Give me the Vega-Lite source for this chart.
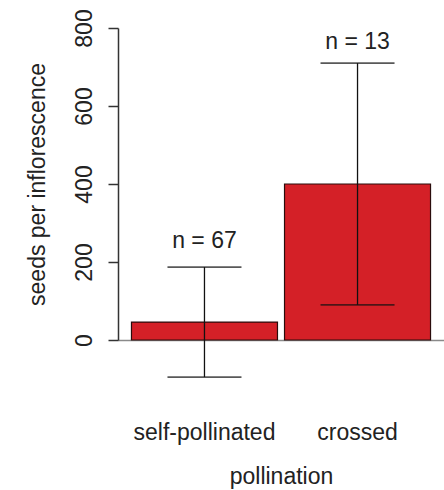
{
  "$schema": "https://vega.github.io/schema/vega-lite/v6.json",
  "autosize": "none",
  "padding": {"left": 118, "top": 28, "right": 0, "bottom": 150},
  "width": 326,
  "height": 312,
  "background": "white",
  "config": {
    "font": "Liberation Sans",
    "view": {"stroke": null}
  },
  "data": {
    "values": [
      {"pollination": "self-pollinated", "mean": 46, "lo": -95, "hi": 187, "label": "n = 67", "label_y": 236},
      {"pollination": "crossed", "mean": 400, "lo": 90, "hi": 710, "label": "n = 13", "label_y": 746}
    ]
  },
  "encoding": {
    "x": {
      "field": "pollination",
      "type": "nominal",
      "sort": null,
      "scale": {"type": "band", "paddingInner": 0.046, "paddingOuter": 0.088},
      "axis": {
        "title": "pollination",
        "labelAngle": 0,
        "labelFontSize": 23,
        "labelColor": "#222",
        "labelPadding": 81,
        "ticks": false,
        "domain": true,
        "domainColor": "#8a8a8a",
        "domainWidth": 1.5,
        "titleFontSize": 23,
        "titleFontWeight": "normal",
        "titleColor": "#222",
        "titlePadding": 21
      }
    }
  },
  "layer": [
    {
      "mark": {"type": "bar", "fill": "#d42027", "stroke": "#2a0c0c", "strokeWidth": 1.2},
      "encoding": {
        "y": {
          "field": "mean",
          "type": "quantitative",
          "scale": {"domain": [0, 800], "nice": false, "zero": false},
          "axis": {
            "title": "seeds per inflorescence",
            "values": [0, 200, 400, 600, 800],
            "grid": false,
            "labelAngle": -90,
            "labelFontSize": 23,
            "labelColor": "#222",
            "labelPadding": 12,
            "tickSize": 10,
            "tickColor": "#333",
            "tickWidth": 1.5,
            "domainColor": "#333",
            "domainWidth": 1.5,
            "titleFontSize": 23,
            "titleFontWeight": "normal",
            "titleColor": "#222",
            "titlePadding": 24
          }
        }
      }
    },
    {
      "mark": {"type": "rule", "color": "#111", "strokeWidth": 1.3},
      "encoding": {
        "y": {"field": "lo", "type": "quantitative"},
        "y2": {"field": "hi"}
      }
    },
    {
      "mark": {"type": "tick", "color": "#111", "size": 74, "thickness": 1.8},
      "encoding": {"y": {"field": "lo", "type": "quantitative"}}
    },
    {
      "mark": {"type": "tick", "color": "#111", "size": 74, "thickness": 1.8},
      "encoding": {"y": {"field": "hi", "type": "quantitative"}}
    },
    {
      "mark": {"type": "text", "fontSize": 23, "color": "#222", "baseline": "alphabetic"},
      "encoding": {
        "y": {"field": "label_y", "type": "quantitative"},
        "text": {"field": "label"}
      }
    }
  ]
}
